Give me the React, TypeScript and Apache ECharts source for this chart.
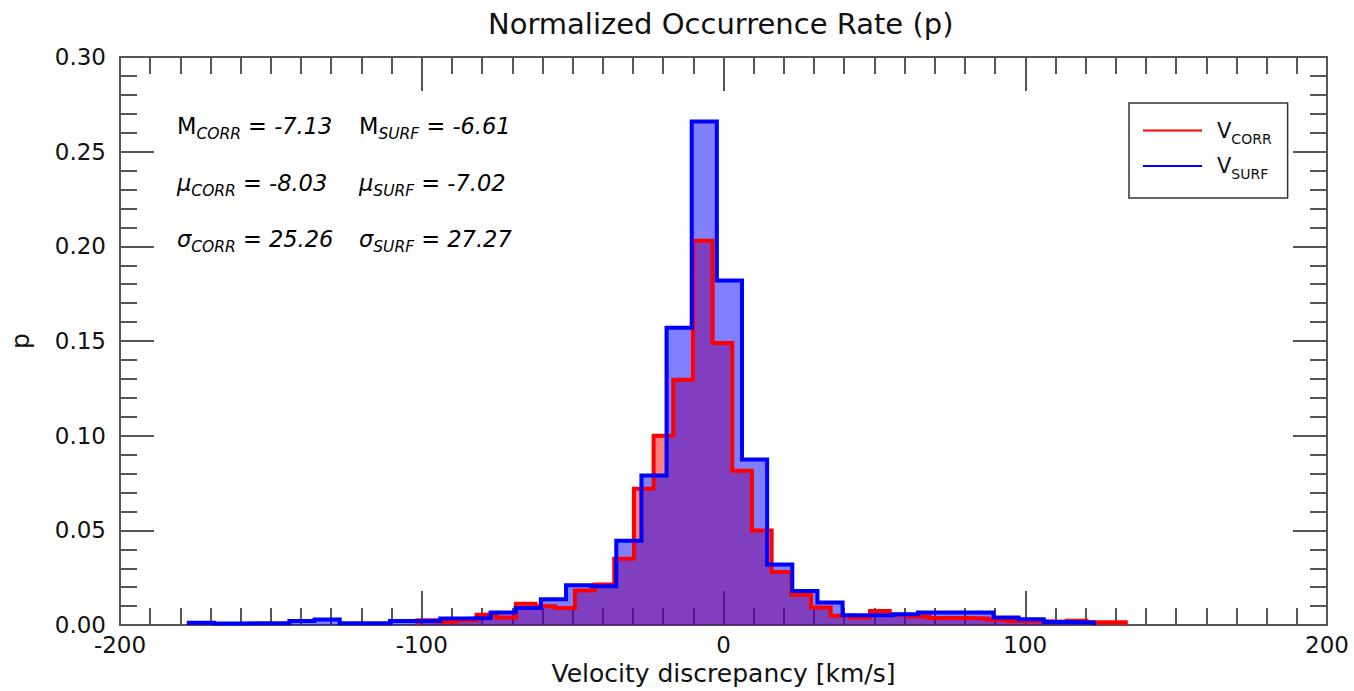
import React, { useEffect, useRef } from "react";
import * as echarts from "echarts";

// ---- data ----
const blueStart = -177.2;
const blueWidth = 8.3333;
const blueValues = [
  0.0012, 0.0008, 0.001, 0.001, 0.0022, 0.003, 0.001, 0.001, 0.0022, 0.0022,
  0.0035, 0.0037, 0.0066, 0.009, 0.0136, 0.021, 0.0205, 0.0446, 0.079, 0.157,
  0.266, 0.182, 0.0875, 0.032, 0.018, 0.0119, 0.0052, 0.0052, 0.0057, 0.0066,
  0.0066, 0.0066, 0.004, 0.0031, 0.0017, 0.0014,
];
const redStart = -101.4;
const redWidth = 6.52;
const redValues = [
  0.0026, 0.0018, 0.0025, 0.0054, 0.004, 0.0113, 0.01, 0.009, 0.0183, 0.0214,
  0.035, 0.072, 0.1, 0.1295, 0.203, 0.149, 0.0815, 0.05, 0.028, 0.016, 0.0093,
  0.005, 0.004, 0.0075, 0.0055, 0.0045, 0.0038, 0.0037, 0.0035, 0.0028, 0.0021,
  0.002, 0.0018, 0.0023, 0.0015, 0.0015,
];
const xTicks = [-200, -100, 0, 100, 200];
const yTicks = [0, 0.05, 0.1, 0.15, 0.2, 0.25, 0.3];
const statsCorr = { M: "-7.13", mu: "-8.03", sigma: "25.26" };
const statsSurf = { M: "-6.61", mu: "-7.02", sigma: "27.27" };

const FONT = "DejaVu Sans";

function stepPoints(start: number, width: number, values: number[]) {
  const pts: number[][] = [[start, 0]];
  values.forEach((v, i) => {
    pts.push([start + i * width, v]);
    pts.push([start + (i + 1) * width, v]);
  });
  pts.push([start + values.length * width, 0]);
  return pts;
}

export default function App() {
  const ref = useRef<HTMLDivElement>(null);
  useEffect(() => {
    if (!ref.current) return;
    const chart = echarts.init(ref.current, null, { renderer: "svg", width: 1354, height: 691 });
    const redPts = stepPoints(redStart, redWidth, redValues);
    const bluePts = stepPoints(blueStart, blueWidth, blueValues);
    const axisColor = "#555";
    const baseX = {
      type: "value" as const,
      min: xTicks[0],
      max: xTicks[xTicks.length - 1],
      interval: 100,
      axisLine: { show: true, onZero: false, lineStyle: { color: axisColor, width: 2 } },
      axisTick: { show: true, inside: true, length: 34, lineStyle: { color: axisColor, width: 2 } },
      minorTick: { show: true, splitNumber: 10, length: 17, lineStyle: { color: axisColor, width: 2 } },
      splitLine: { show: false },
    };
    const baseY = {
      type: "value" as const,
      min: yTicks[0],
      max: yTicks[yTicks.length - 1],
      interval: 0.05,
      axisLine: { show: true, onZero: false, lineStyle: { color: axisColor, width: 2 } },
      axisTick: { show: true, inside: true, length: 34, lineStyle: { color: axisColor, width: 2 } },
      minorTick: { show: true, splitNumber: 5, length: 17, lineStyle: { color: axisColor, width: 2 } },
      splitLine: { show: false },
    };
    const subRich = {
      n: { fontSize: 22.5, fontFamily: FONT, color: "#111" },
      g: { fontSize: 22.5, fontFamily: FONT, color: "#111", fontStyle: "italic" },
      s: { fontSize: 15.5, fontFamily: FONT, color: "#111", fontStyle: "italic", padding: [16, 0, 0, 0] },
      v: { fontSize: 22.5, fontFamily: FONT, color: "#111", fontStyle: "italic" },
    };
    const statText = (sym: string, symStyle: string, sub: string, val: string) =>
      `{${symStyle}|${sym}}{s|${sub}}{v| = ${val}}`;
    const lines = [
      { sym: "M", st: "n", c: statsCorr.M, s: statsSurf.M },
      { sym: "μ", st: "g", c: statsCorr.mu, s: statsSurf.mu },
      { sym: "σ", st: "g", c: statsCorr.sigma, s: statsSurf.sigma },
    ];
    const graphic: any[] = [];
    lines.forEach((l, i) => {
      graphic.push({
        type: "text",
        left: 177,
        top: 114.5 + i * 56.7,
        style: { text: statText(l.sym, l.st, "CORR", l.c), rich: subRich },
      });
      graphic.push({
        type: "text",
        left: 359,
        top: 114.5 + i * 56.7,
        style: { text: statText(l.sym, l.st, "SURF", l.s), rich: subRich },
      });
    });

    chart.setOption({
      animation: false,
      backgroundColor: "#fff",
      textStyle: { fontFamily: FONT },
      title: {
        text: "Normalized Occurrence Rate (p)",
        left: 488,
        top: 9,
        padding: 0,
        textStyle: { fontFamily: FONT, fontSize: 29, lineHeight: 29, fontWeight: "normal", color: "#111" },
      },
      grid: { left: 116, width: 1211, top: 57, height: 574, containLabel: false },
      legend: {
        orient: "vertical",
        left: 1129,
        top: 103,
        data: ["VCORR", "VSURF"],
        icon: "rect",
        itemWidth: 59,
        itemHeight: 2,
        itemGap: 10,
        padding: [17, 16, 17, 14],
        borderColor: "#333",
        borderWidth: 1.5,
        backgroundColor: "#fff",
        formatter: (name: string) => (name === "VCORR" ? "{v|V}{s|CORR}" : "{v|V}{s|SURF}"),
        textStyle: {
          rich: {
            v: { fontSize: 21, fontFamily: FONT, color: "#111", padding: [0, 0, 0, 10] },
            s: { fontSize: 14, fontFamily: FONT, color: "#111", padding: [16, 0, 0, 0] },
          },
        },
      },
      xAxis: [
        {
          ...baseX,
          position: "bottom",
          name: "Velocity discrepancy [km/s]",
          nameLocation: "middle",
          nameGap: 32,
          nameTextStyle: { fontFamily: FONT, fontSize: 25, color: "#111" },
          axisLabel: { show: true, fontFamily: FONT, fontSize: 23, color: "#111", margin: 8, formatter: (v: number) => String(v) },
        },
        { ...baseX, position: "top", axisLabel: { show: false } },
      ],
      yAxis: [
        {
          ...baseY,
          position: "left",
          name: "p",
          nameLocation: "middle",
          nameGap: 87,
          nameTextStyle: { fontFamily: FONT, fontSize: 25, color: "#111" },
          axisLabel: { show: true, fontFamily: FONT, fontSize: 23, color: "#111", margin: 14, formatter: (v: number) => v.toFixed(2) },
        },
        { ...baseY, position: "right", axisLabel: { show: false } },
      ],
      graphic,
      series: [
        {
          name: "VCORR fill",
          type: "line",
          data: redPts,
          showSymbol: false,
          silent: true,
          lineStyle: { width: 0 },
          areaStyle: { color: "rgba(255,0,0,0.5)", opacity: 1 },
          z: 1,
        },
        {
          name: "VSURF fill",
          type: "line",
          data: bluePts,
          showSymbol: false,
          silent: true,
          lineStyle: { width: 0 },
          areaStyle: { color: "rgba(0,0,255,0.5)", opacity: 1 },
          z: 2,
        },
        {
          name: "VCORR",
          type: "line",
          data: redPts,
          showSymbol: false,
          silent: true,
          itemStyle: { color: "#ff0000" },
          lineStyle: { color: "#ff0000", width: 4, join: "miter" },
          z: 3,
        },
        {
          name: "VSURF",
          type: "line",
          data: bluePts,
          showSymbol: false,
          silent: true,
          itemStyle: { color: "#0000ff" },
          lineStyle: { color: "#0000ff", width: 4, join: "miter" },
          z: 4,
        },
      ],
    });
    return () => chart.dispose();
  }, []);
  return (
    <div
      ref={ref}
      style={{ position: "fixed", left: 0, top: 0, width: 1354, height: 691, background: "#fff" }}
    />
  );
}
